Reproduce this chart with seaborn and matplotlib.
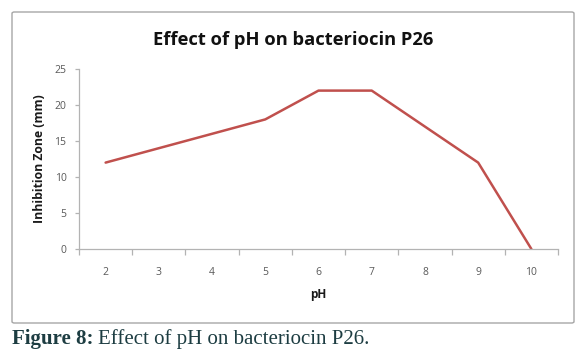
import matplotlib
matplotlib.use("Agg")
import matplotlib.pyplot as plt
import seaborn as sns
import pandas as pd
from matplotlib.patches import FancyBboxPatch

ph = [2, 3, 4, 5, 6, 7, 8, 9, 10]
inhibition = [12, 14, 16, 18, 22, 22, 17, 12, 0]
y_ticks = [0, 5, 10, 15, 20, 25]
title = "Effect of pH on bacteriocin P26"
xlabel = "pH"
ylabel = "Inhibition Zone (mm)"

sns.set_theme(style="white")
plt.rcParams['font.family'] = ['Open Sans', 'DejaVu Sans']

df = pd.DataFrame({"pH": ph, "Inhibition": inhibition})

fig = plt.figure(figsize=(5.86, 3.6), dpi=100)
fig.patch.set_facecolor("white")

# chart border
border = FancyBboxPatch((12 / 586, 1 - 323 / 360), (574 - 12) / 586, (323 - 12) / 360,
                        boxstyle="round,pad=0,rounding_size=0.004",
                        transform=fig.transFigure, fill=False,
                        edgecolor="#a6a6a6", linewidth=1.0)
fig.patches.append(border)

ax = fig.add_axes([79 / 586, 1 - 249 / 360, (558 - 79) / 586, (249 - 69) / 360])
sns.lineplot(data=df, x="pH", y="Inhibition", ax=ax, color="#c0504d", linewidth=1.8)

ax.set_xlim(1.5, 10.5)
ax.set_ylim(0, 25)
ax.set_xticks(ph)
ax.set_xticklabels([str(v) for v in ph])
ax.set_xticks([v + 0.5 for v in [1] + ph], minor=True)
ax.set_yticks(y_ticks)
ax.set_yticklabels([str(v) for v in y_ticks])

for s in ["top", "right"]:
    ax.spines[s].set_visible(False)
for s in ["left", "bottom"]:
    ax.spines[s].set_color("#b3b3b3")
    ax.spines[s].set_linewidth(0.9)

ax.tick_params(axis="x", which="major", length=0, pad=13, labelsize=7.5, labelcolor="#595959")
ax.tick_params(axis="x", which="minor", length=4, width=0.9, color="#b3b3b3", direction="out", bottom=True)
ax.tick_params(axis="y", which="major", length=3, width=0.9, color="#b3b3b3", direction="out", left=True,
               labelsize=7.5, labelcolor="#595959", pad=6)

ax.set_xlabel(xlabel, fontsize=8.5, fontweight="bold", color="#1a1a1a", labelpad=7)
ax.set_ylabel(ylabel, fontsize=8.8, fontweight="bold", color="#1a1a1a", labelpad=6)

fig.text(0.5, 1 - 40 / 360, title, ha="center", va="center",
         fontsize=13.2, fontweight="bold", color="#111111")

cap_y = 1 - 339 / 360
t1 = fig.text(12 / 586, cap_y, "Figure 8:", ha="left", va="center",
              fontsize=15, fontweight="bold", color="#1d3d42", family="Liberation Serif")
fig.canvas.draw()
bb = t1.get_window_extent()
x2 = (bb.x1 + 4) / fig.bbox.width
fig.text(x2, cap_y, "Effect of pH on bacteriocin P26.", ha="left", va="center",
         fontsize=15, color="#1d3d42", family="Liberation Serif")

fig.savefig("out.png", dpi=100)
